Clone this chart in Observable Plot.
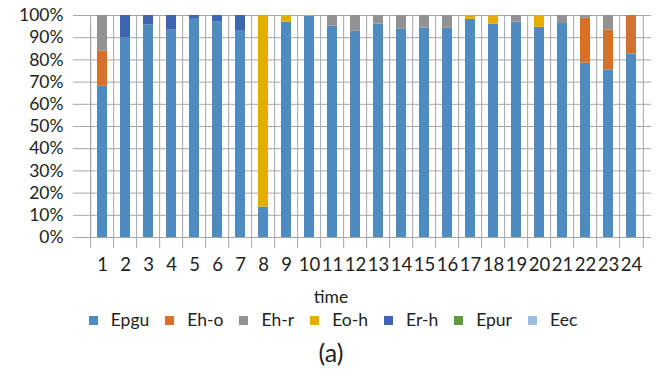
<!DOCTYPE html>
<html>
<head>
<meta charset="utf-8">
<script src="https://cdn.jsdelivr.net/npm/d3@7"></script>
<script src="https://cdn.jsdelivr.net/npm/@observablehq/plot@0.6"></script>
<style>
  html, body { margin: 0; padding: 0; background: #fff; }
  body { width: 662px; height: 379px; overflow: hidden; font-family: Lato, "Open Sans", sans-serif; color: #222; }
  #xlabel { text-align: center; font-size: 17.5px; height: 20px; line-height: 20px; margin-top: 7px; }
  #legend { display: flex; justify-content: center; font-size: 17.5px; height: 24px; line-height: 24px; margin-top: 1px; margin-left: 4px; }
  .item { display: flex; align-items: center; margin: 0 8px; }
  .sw { width: 9px; height: 9px; margin-right: 13px; }
  #cap { text-align: center; font-size: 25px; margin-top: 4px; line-height: 32px; }
</style>
</head>
<body>
<div id="chart"></div>
<div id="xlabel">time</div>
<div id="legend"></div>
<div id="cap">(a)</div>
<script>
const times = [1,2,3,4,5,6,7,8,9,10,11,12,13,14,15,16,17,18,19,20,21,22,23,24];
const seriesNames = ["Epgu","Eh-o","Eh-r","Eo-h","Er-h","Epur","Eec"];
const colors = ["#4e8bc0","#d6712b","#929292","#e6ad00","#3d65b1","#609b3b","#9cbde3"];
const yTicks = [0,10,20,30,40,50,60,70,80,90,100];

const Epgu = [68.1,89.9,95.8,93.4,98.3,97.0,92.9,13.7,97.0,99.6,95.2,92.9,96.1,93.8,94.3,94.3,98.3,96.1,97.0,94.7,96.4,78.5,75.5,82.7];
const Eho  = [15.8,0,0,0,0,0,0,0,0,0,0,0,0,0,0,0,0,0,0,0,0,20.3,18.0,17.3];
const Ehr  = [16.1,0,0,0,0,0,0,0,0,0,4.8,7.1,3.9,6.2,5.7,5.7,0,0,3.0,0,3.6,1.2,6.5,0];
const Eoh  = [0,0,0,0,0,0,0,86.3,3.0,0.4,0,0,0,0,0,0,1.7,3.9,0,5.3,0,0,0,0];
const Erh  = [0,10.1,4.2,6.6,1.7,3.0,7.1,0,0,0,0,0,0,0,0,0,0,0,0,0,0,0,0,0];
const Epur = [0,0,0,0,0,0,0,0,0,0,0,0,0,0,0,0,0,0,0,0,0,0,0,0];
const Eec  = [0,0,0,0,0,0,0,0,0,0,0,0,0,0,0,0,0,0,0,0,0,0,0,0];

const seriesValues = [Epgu, Eho, Ehr, Eoh, Erh, Epur, Eec];
const data = [];
seriesNames.forEach((s, i) => {
  times.forEach((t, j) => data.push({time: String(t), series: s, value: seriesValues[i][j]}));
});

const W = 662, ML = 82, MR = 11;
const step = (W - ML - MR) / times.length;
const gridColor = "#a6a6a6";
const font = "Lato, 'Open Sans', sans-serif";

const plot = Plot.plot({
  width: W,
  height: 280,
  marginLeft: ML,
  marginRight: MR,
  marginTop: 15,
  marginBottom: 43,
  style: {fontFamily: font, fontSize: "17.5px", color: "#222", background: "#fff"},
  x: {domain: times.map(String), padding: 0.58, label: null},
  y: {domain: [0, 100], label: null},
  color: {domain: seriesNames, range: colors},
  marks: [
    Plot.ruleY(yTicks, {stroke: gridColor, strokeWidth: 1}),
    Plot.axisY(yTicks, {tickSize: 9, tickPadding: 10, stroke: gridColor, tickFormat: d => d + "%", label: null, fontSize: 17.5, fill: "#222"}),
    Plot.ruleX([0], {x: () => times[0] + "", y1: 0, y2: 100, dx: -step / 2, stroke: gridColor, insetBottom: -11}),
    Plot.tickX(times.map(String), {x: d => d, y1: 0, y2: 0, dx: -step / 2, stroke: gridColor, insetBottom: -11}),
    Plot.tickX([String(times[times.length - 1])], {x: d => d, y1: 0, y2: 0, dx: step / 2, stroke: gridColor, insetBottom: -11}),
    Plot.barY(data, {x: "time", y: "value", fill: "series", order: seriesNames}),
    Plot.axisX({tickSize: 0, tickPadding: 20, label: null, fontSize: 18.5, fill: "#222"})
  ]
});
document.getElementById("chart").appendChild(plot);

const leg = document.getElementById("legend");
seriesNames.forEach((s, i) => {
  const it = document.createElement("div");
  it.className = "item";
  const sw = document.createElement("span");
  sw.className = "sw";
  sw.style.background = colors[i];
  const tx = document.createElement("span");
  tx.textContent = s;
  it.appendChild(sw); it.appendChild(tx);
  leg.appendChild(it);
});
</script>
</body>
</html>
